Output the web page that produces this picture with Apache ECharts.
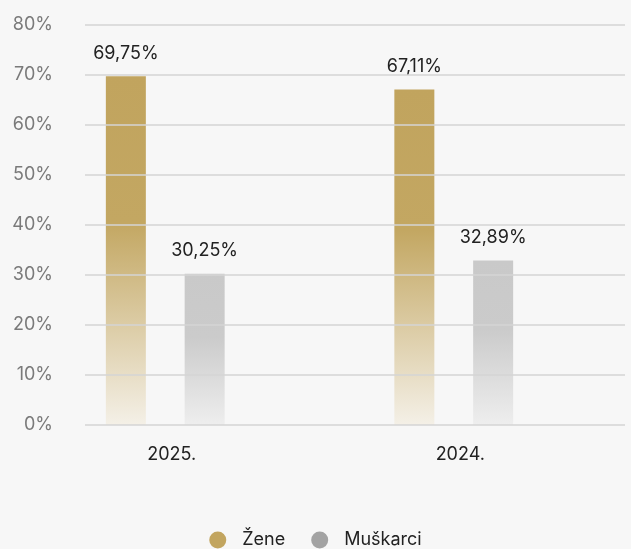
<!DOCTYPE html>
<html>
<head>
<meta charset="utf-8">
<script src="https://cdn.jsdelivr.net/npm/echarts@6/dist/echarts.min.js"></script>
<style>
  html, body { margin: 0; padding: 0; background: #f7f7f7; }
  #chart { width: 631px; height: 549px; }
</style>
</head>
<body>
<div id="chart"></div>
<script>
"use strict"

var years = ["2025.", "2024."];
var zene = [69.75, 67.11];
var muskarci = [30.25, 32.89];
var seriesNames = ["Žene", "Muškarci"];

function pct(v){
    return v.toFixed(2).replace(".", ",") + "%";
}

function fade(top, mid, bottom){
    return new echarts.graphic.LinearGradient(0, 0, 0, 1, [
        { offset: 0, color: top },
        { offset: 0.42, color: mid },
        { offset: 1, color: bottom }
    ]);
}

var chart = echarts.init(document.getElementById("chart"));
var font = "Inter, 'Noto Sans', sans-serif";

var option = {
    backgroundColor: "#f7f7f7",
    textStyle: { fontFamily: font },
    legend: {
        left: "center",
        top: 526,
        itemWidth: 17,
        itemHeight: 17,
        itemGap: 26,
        icon: "circle",
        textStyle: { fontSize: 18, color: "#222", fontFamily: font, padding: [0, 0, 0, 11] },
        data: [
            { name: seriesNames[0], itemStyle: { color: "#c2a55f" } },
            { name: seriesNames[1], itemStyle: { color: "#a3a3a3" } }
        ]
    },
    grid: [
        { left: 85, right: 6, top: 25, bottom: 124 },   // gridlines + y labels
        { left: 21, right: 33, top: 25, bottom: 124 }   // bars
    ],
    xAxis: [
        {
            type: "category", gridIndex: 0, data: years,
            axisLine: { show: false }, axisTick: { show: false }, axisLabel: { show: false }
        },
        {
            type: "category", gridIndex: 1, data: years,
            axisLine: { show: false }, axisTick: { show: false },
            axisLabel: { fontSize: 18, color: "#222", margin: 21, padding: [0, 0, 0, 13], fontFamily: font }
        }
    ],
    yAxis: [
        {
            type: "value", gridIndex: 0, min: 0, max: 80, interval: 10, z: 5,
            axisLine: { show: false }, axisTick: { show: false },
            axisLabel: { formatter: "{value}%", fontSize: 18, color: "#7a7a7a", margin: 32, padding: [0, 0, 12, 0], fontFamily: font },
            splitLine: { lineStyle: { color: "#d4d4d4", width: 1.5 } }
        },
        {
            type: "value", gridIndex: 1, min: 0, max: 80, interval: 10, show: false,
            splitLine: { show: false }
        }
    ],
    series: [
        {
            name: seriesNames[0], type: "bar", xAxisIndex: 1, yAxisIndex: 1,
            barWidth: 40, barGap: "97%",
            data: zene,
            itemStyle: { color: fade("#c1a45e", "#c3a762", "#f4f0e7") },
            label: {
                show: true, position: "top", distance: 14,
                fontSize: 18, color: "#222", fontFamily: font,
                formatter: function(p){ return pct(p.value); }
            }
        },
        {
            name: seriesNames[1], type: "bar", xAxisIndex: 1, yAxisIndex: 1,
            barWidth: 40,
            data: muskarci,
            itemStyle: { color: fade("#c9c9c9", "#cbcbcb", "#eeeeee") },
            label: {
                show: true, position: "top", distance: 14,
                fontSize: 18, color: "#222", fontFamily: font,
                formatter: function(p){ return pct(p.value); }
            }
        }
    ]
};

chart.setOption(option);
</script>
</body>
</html>
